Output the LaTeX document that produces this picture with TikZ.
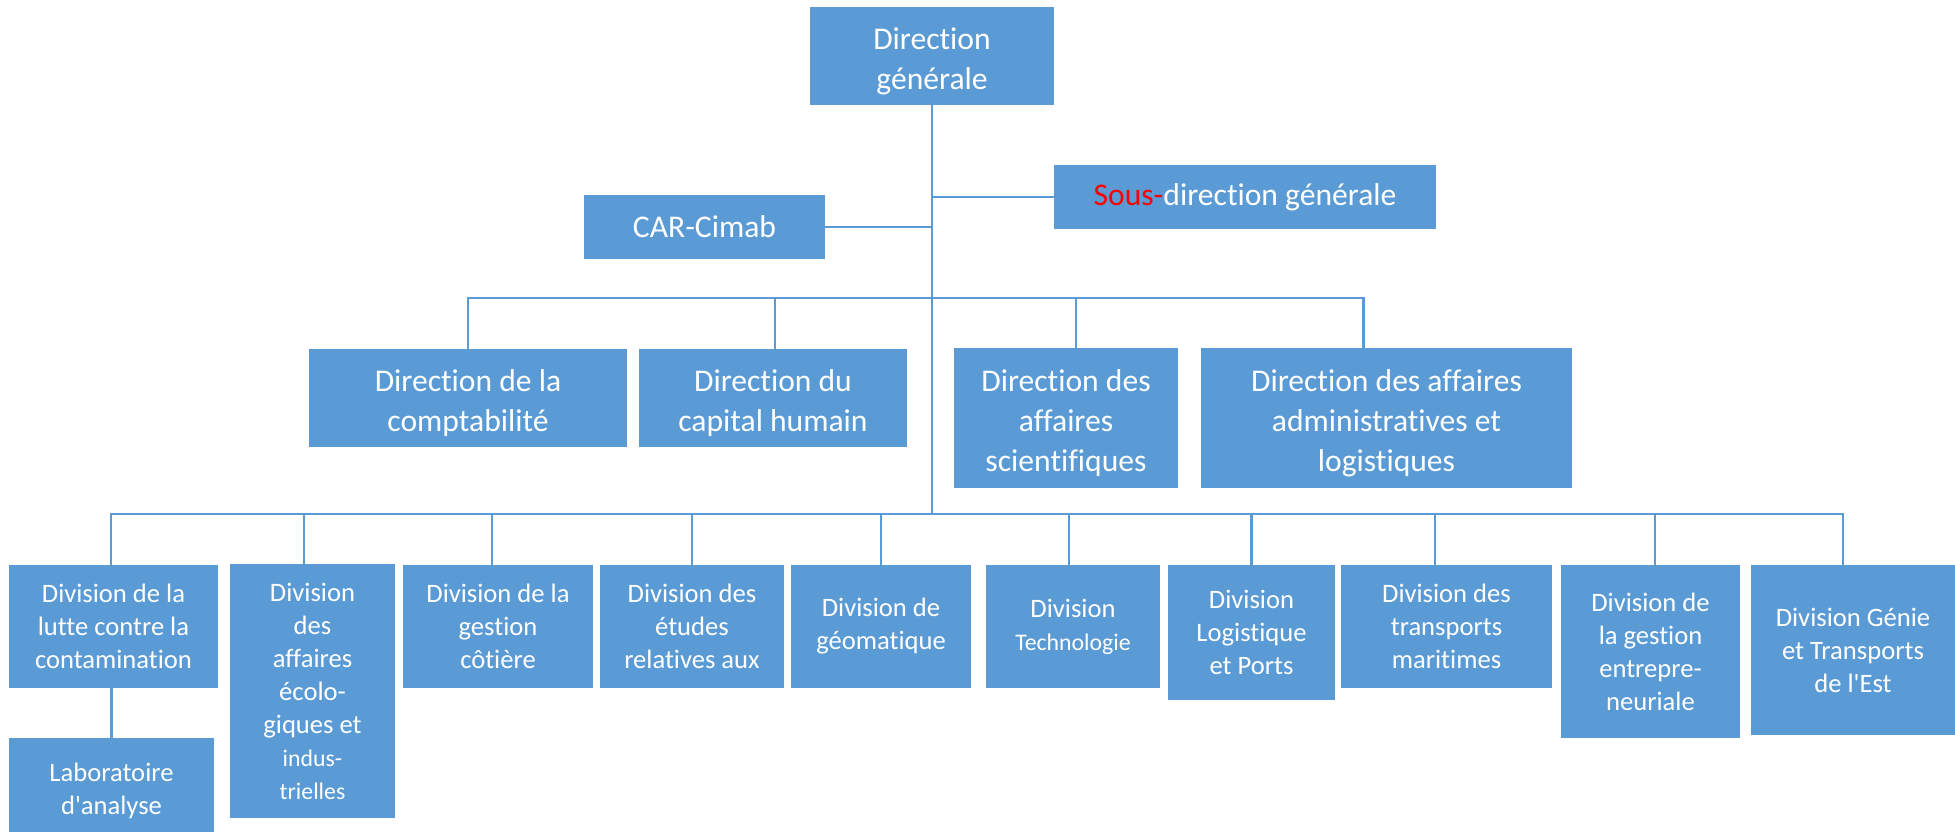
\documentclass[tikz,border=0pt]{standalone}
\usepackage{fontspec}
\setmainfont{Carlito}[Ligatures={TeXOff,NoCommon}]
\definecolor{officeblue}{HTML}{5B9BD5}
\definecolor{sousred}{HTML}{FF0000}
\newcommand{\bigtxt}{\fontsize{15.8}{20}\selectfont}
\newcommand{\divtxt}{\fontsize{13.3}{16.5}\selectfont}
\newcommand{\smalltxt}{\fontsize{11.9}{15.5}\selectfont}
\newcommand{\lowstrut}[1]{\rule{0pt}{#1}}
\begin{document}
\begin{tikzpicture}[x=0.5pt, y=-0.5pt, line join=miter,
	box/.style 2 args={fill=officeblue, text=white, align=center, inner sep=0pt,
		minimum width=#1*0.5pt, minimum height=#2*0.5pt},
	conn/.style={draw=officeblue, line width=1.2pt}]
	\useasboundingbox (0,0) rectangle (1955,832);
	% direction
	\node[box={244}{98}, font=\bigtxt] (dg) at (932,56) {\lowstrut{16pt}Direction\\générale};
	\node[box={382}{64}, font=\bigtxt] (sdg) at (1245,197) {\textcolor{sousred}{Sous-}direction générale};
	\node[box={241}{64}, font=\bigtxt] (car) at (704.5,227) {CAR-Cimab};
	% directions
	\node[box={318}{98}, font=\bigtxt] (dcompta) at (468,398) {\lowstrut{16pt}Direction de la\\comptabilité};
	\node[box={268}{98}, font=\bigtxt] (dcapital) at (773,398) {\lowstrut{16pt}Direction du\\capital humain};
	\node[box={224}{140}, font=\bigtxt] (dsci) at (1066,418) {\lowstrut{16pt}Direction des\\affaires\\scientifiques};
	\node[box={371}{140}, font=\bigtxt] (dadmin) at (1386.5,418) {\lowstrut{16pt}Direction des affaires\\administratives et\\logistiques};
	% divisions
	\node[box={209}{123}, font=\divtxt] (dlutte) at (113.5,626.5) {Division de la\\lutte contre la\\contamination};
	\node[box={165}{254}, font=\divtxt] (decolo) at (312.5,691) {Division\\des\\affaires\\écolo-\\giques et\\{\smalltxt indus-}\\{\smalltxt trielles}};
	\node[box={190}{123}, font=\divtxt] (dcotiere) at (498,626.5) {Division de la\\gestion\\côtière};
	\node[box={184}{123}, font=\divtxt] (detudes) at (692,626.5) {Division des\\études\\relatives aux};
	\node[box={180}{123}, font=\divtxt] (dgeomat) at (881,626.5) {Division de\\géomatique};
	\node[box={174}{123}, font=\divtxt] (dtechno) at (1073,626.5) {Division\\{\smalltxt Technologie}};
	\node[box={167}{135}, font=\divtxt] (dlogis) at (1251.5,632.5) {Division\\Logistique\\et Ports};
	\node[box={211}{123}, font=\divtxt] (dtransp) at (1446.5,626.5) {Division des\\transports\\maritimes};
	\node[box={179}{173}, font=\divtxt] (dentre) at (1650.5,651.5) {Division de\\la gestion\\entrepre-\\neuriale};
	\node[box={204}{170}, font=\divtxt] (dgenie) at (1853,650) {Division Génie\\et Transports\\de l'Est};
	\node[box={205}{94}, font=\divtxt] (labo) at (111.5,785) {\lowstrut{15pt}Laboratoire\\d'analyse};
	% liaisons
	\coordinate (b1) at (932,298);
	\coordinate (b2) at (932,514);
	\draw[conn] (dg.south) -- (b2);
	\draw[conn] (sdg.west) -- (sdg.west -| dg.south);
	\draw[conn] (car.east) -- (car.east -| dg.south);
	\draw[conn] (dcompta.north) |- (b1);
	\draw[conn] (dcapital.north) ++(2,0) |- (b1);
	\draw[conn] (dsci.north) ++(10,0) |- (b1);
	\draw[conn] (dadmin.north) ++(-23,0) |- (b1);
	\draw[conn] (dlutte.north) ++(-2.5,0) |- (b2);
	\draw[conn] (decolo.north) ++(-8.5,0) |- (b2);
	\draw[conn] (dcotiere.north) ++(-6,0) |- (b2);
	\draw[conn] (detudes.north) |- (b2);
	\draw[conn] (dgeomat.north) |- (b2);
	\draw[conn] (dtechno.north) ++(-4,0) |- (b2);
	\draw[conn] (dlogis.north) |- (b2);
	\draw[conn] (dtransp.north) ++(-11.5,0) |- (b2);
	\draw[conn] (dentre.north) ++(4.5,0) |- (b2);
	\draw[conn] (dgenie.north) ++(-10,0) |- (b2);
	\draw[conn] (labo.north) -- (labo.north |- dlutte.south);
\end{tikzpicture}
\end{document}
